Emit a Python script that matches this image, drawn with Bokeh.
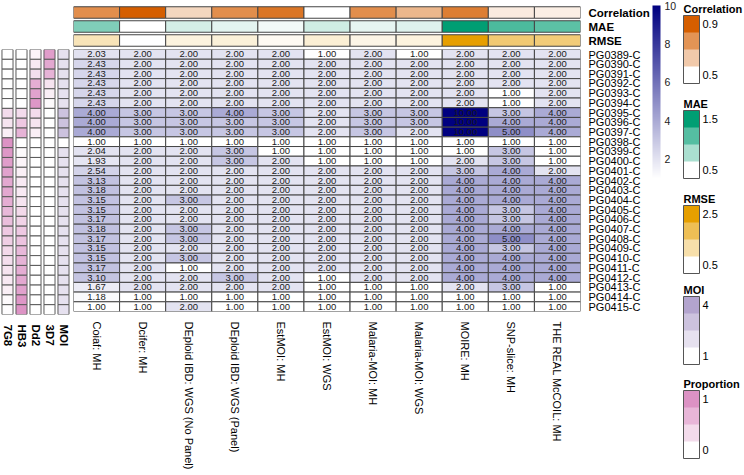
import numpy as np
from bokeh.plotting import figure
from bokeh.models import ColumnDataSource, ColorBar, LinearColorMapper, FixedTicker, FactorRange
from bokeh.layouts import row, column
from bokeh.embed import file_html
from bokeh.resources import INLINE
from bokeh.core.properties import value

FONT = "Liberation Sans"

methods = ["Coiaf: MH", "Dcifer: MH", "DEploid IBD: WGS  (No Panel)", "DEploid IBD: WGS  (Panel)",
           "EstMOI: MH", "EstMOI: WGS", "Malaria-MOI: MH", "Malaria-MOI: WGS",
           "MOIRE: MH", "SNP-slice: MH", "THE REAL McCOIL: MH"]
samples = ["PG0389-C", "PG0390-C", "PG0391-C", "PG0392-C", "PG0393-C", "PG0394-C",
           "PG0395-C", "PG0396-C", "PG0397-C", "PG0398-C", "PG0399-C", "PG0400-C",
           "PG0401-C", "PG0402-C", "PG0403-C", "PG0404-C", "PG0405-C", "PG0406-C",
           "PG0407-C", "PG0408-C", "PG0409-C", "PG0410-C", "PG0411-C", "PG0412-C",
           "PG0413-C", "PG0414-C", "PG0415-C"]

coiaf = [2.03, 2.43, 2.43, 2.43, 2.43, 2.43, 4.00, 4.00, 4.00, 1.00, 2.04, 1.93, 2.54, 3.13,
         3.18, 3.15, 3.15, 3.17, 3.18, 3.17, 3.15, 3.15, 3.17, 3.10, 1.67, 1.18, 1.00]
dcifer = [2, 2, 2, 2, 2, 2, 3, 3, 3, 1, 2, 2, 2, 2, 2, 2, 2, 2, 2, 2, 2, 2, 2, 2, 2, 1, 1]
deploid_nopanel = [2, 2, 2, 2, 2, 2, 3, 3, 3, 1, 2, 2, 2, 2, 2, 3, 2, 2, 3, 3, 2, 3, 1, 2, 2, 1, 2]
deploid_panel = [2, 2, 2, 2, 2, 2, 4, 3, 3, 1, 3, 3, 2, 2, 2, 2, 2, 2, 2, 2, 2, 2, 2, 3, 2, 1, 1]
estmoi_mh = [2, 2, 2, 2, 2, 2, 3, 3, 3, 1, 1, 2, 2, 2, 2, 2, 2, 2, 2, 2, 2, 2, 2, 2, 2, 1, 1]
estmoi_wgs = [1, 2, 2, 2, 2, 2, 2, 2, 2, 1, 1, 1, 2, 2, 2, 2, 2, 2, 2, 2, 2, 2, 2, 1, 1, 1, 1]
malaria_moi_mh = [2, 2, 2, 2, 2, 2, 3, 3, 3, 1, 1, 1, 2, 2, 2, 2, 2, 2, 2, 2, 2, 2, 2, 2, 1, 1, 1]
malaria_moi_wgs = [1, 2, 2, 2, 2, 2, 3, 3, 2, 1, 1, 1, 2, 2, 2, 2, 2, 2, 2, 2, 2, 2, 2, 2, 1, 1, 1]
moire = [2, 2, 2, 2, 2, 2, 10, 10, 10, 1, 1, 2, 3, 4, 4, 4, 4, 4, 4, 4, 4, 4, 4, 4, 2, 1, 1]
snp_slice = [2, 2, 2, 2, 1, 1, 3, 4, 5, 1, 3, 3, 4, 4, 4, 4, 3, 3, 4, 5, 3, 4, 4, 4, 3, 1, 1]
real_mccoil = [2, 2, 2, 2, 2, 2, 4, 4, 4, 1, 1, 1, 2, 4, 4, 4, 4, 4, 4, 4, 4, 4, 4, 4, 1, 1, 1]
moi_table = [coiaf, dcifer, deploid_nopanel, deploid_panel, estmoi_mh, estmoi_wgs,
             malaria_moi_mh, malaria_moi_wgs, moire, snp_slice, real_mccoil]

correlation = [0.78, 0.90, 0.60, 0.78, 0.84, 0.50, 0.78, 0.68, 0.82, 0.55, 0.54]
mae = [1.00, 0.50, 0.67, 0.61, 0.55, 0.69, 0.60, 0.63, 1.50, 1.20, 1.14]
rmse = [1.06, 0.50, 0.76, 0.80, 0.60, 0.84, 0.70, 0.76, 2.50, 1.60, 1.56]

strain_cols = ["7G8", "HB3", "Dd2", "3D7", "MOI"]
prop_7G8 = [0, 0, 0, 0, 0, 0, 0.33, 0.25, 0.15, 1.0, 0.95, 0.9, 0.85, 0.8, 0.8, 0.75, 0.65,
            0.6, 0.5, 0.45, 0.35, 0.3, 0.25, 0.2, 0.15, 0.05, 0.02]
prop_HB3 = [0, 0, 0, 0, 0, 0, 0.33, 0.5, 0.7, 0, 0.05, 0.1, 0.15, 0.2, 0.2, 0.25, 0.35,
            0.4, 0.5, 0.55, 0.65, 0.7, 0.75, 0.8, 0.85, 0.95, 0.98]
prop_Dd2 = [0.1, 0.2, 0.3, 0.75, 0.85, 0.95, 0.33, 0.25, 0.15, 0, 0, 0, 0, 0, 0, 0, 0,
            0, 0, 0, 0, 0, 0, 0, 0, 0, 0]
prop_3D7 = [0.9, 0.8, 0.7, 0.25, 0.15, 0.05, 0, 0, 0, 0, 0, 0, 0, 0, 0, 0, 0,
            0, 0, 0, 0, 0, 0, 0, 0, 0, 0]
true_moi = [2, 2, 2, 2, 2, 2, 3, 3, 3, 1, 2, 2, 2, 2, 2, 2, 2, 2, 2, 2, 2, 2, 2, 2, 2, 2, 2]

moi_ticks = [2, 4, 6, 8, 10]


def hex2rgb(h):
    h = h.lstrip("#")
    return tuple(int(h[i:i + 2], 16) for i in (0, 2, 4))


def ramp(vals, lo, hi, c_hi, c_lo="#ffffff"):
    a, b = hex2rgb(c_lo), hex2rgb(c_hi)
    out = []
    for v in vals:
        t = min(max((v - lo) / (hi - lo), 0.0), 1.0)
        out.append("#%02x%02x%02x" % tuple(int(round(x + t * (y - x))) for x, y in zip(a, b)))
    return out


NAVY = "#000080"
COR_C, MAE_C, RMSE_C = "#D55E00", "#009E73", "#E69F00"
MOI_C, PROP_C = "#B3A4CE", "#DC92C4"
GRID = "#454545"

# layout constants (page pixels)
TOP_H = 48          # height of the top-annotation figure
FRAME_TOP = 49      # heatmap frame top
FRAME_BOT = 314     # heatmap frame bottom
PAGE_H = 475
BOT_BORDER = PAGE_H - FRAME_BOT

# ---------------- main heatmap ----------------
xs, ys, vals = [], [], []
for m, col in zip(methods, moi_table):
    for s, v in zip(samples, col):
        xs.append(m)
        ys.append(s)
        vals.append(v)
src = ColumnDataSource(dict(x=xs, y=ys, v=vals, color=ramp(vals, 1, 10, NAVY),
                            label=["%.2f" % v for v in vals]))

yr = FactorRange(factors=samples[::-1])
xr = FactorRange(factors=methods)

M = figure(width=580, height=PAGE_H - TOP_H, x_range=xr, y_range=yr, output_backend="svg",
           toolbar_location=None, x_axis_location="below", y_axis_location="right",
           min_border_left=1, min_border_right=70, min_border_top=FRAME_TOP - TOP_H,
           min_border_bottom=BOT_BORDER)
M.rect(x="x", y="y", width=1, height=1, source=src, fill_color="color",
       line_color=GRID, line_width=1)
M.text(x="x", y="y", text="label", source=src, text_align="center", text_baseline="middle",
       text_font_size="9.5px", text_font=value(FONT), text_color="#1a1a1a")

M.outline_line_color = None
M.grid.visible = False
for ax in M.axis:
    ax.axis_line_color = None
    ax.major_tick_line_color = None
    ax.minor_tick_line_color = None
    ax.major_label_text_font = FONT
    ax.major_label_text_color = "#000000"
M.xaxis.major_label_orientation = -np.pi / 2
M.xaxis.major_label_text_font_size = "11px"
M.xaxis.major_label_standoff = 4
M.yaxis.major_label_text_font_size = "11px"
M.yaxis.major_label_standoff = 2

# ---------------- top annotations ----------------
ann_names = ["Correlation", "MAE", "RMSE"]
tx, ty, tc = [], [], []
for name, vv, lo, hi, c in [("Correlation", correlation, 0.5, 0.9, COR_C),
                            ("MAE", mae, 0.5, 1.5, MAE_C),
                            ("RMSE", rmse, 0.5, 2.5, RMSE_C)]:
    tx += methods
    ty += [name] * len(methods)
    tc += ramp(vv, lo, hi, c)
tsrc = ColumnDataSource(dict(x=tx, y=ty, color=tc))
T = figure(width=580, height=TOP_H, x_range=xr, y_range=FactorRange(factors=ann_names[::-1]),
           output_backend="svg", toolbar_location=None, x_axis_location=None,
           y_axis_location="right", min_border_left=1, min_border_right=70,
           min_border_top=5, min_border_bottom=1)
T.rect(x="x", y="y", width=1, height=0.82, source=tsrc, fill_color="color",
       line_color=GRID, line_width=1)
T.outline_line_color = None
T.grid.visible = False
T.yaxis.axis_line_color = None
T.yaxis.major_tick_line_color = None
T.yaxis.minor_tick_line_color = None
T.yaxis.major_label_text_font = FONT
T.yaxis.major_label_text_font_style = "bold"
T.yaxis.major_label_text_font_size = "11.5px"
T.yaxis.major_label_text_color = "#000000"
T.yaxis.major_label_standoff = 2

# ---------------- left annotations ----------------
lx, ly, lc = [], [], []
for name, vv in [("7G8", prop_7G8), ("HB3", prop_HB3), ("Dd2", prop_Dd2), ("3D7", prop_3D7)]:
    lx += [name] * len(samples)
    ly += samples
    lc += ramp(vv, 0, 1, PROP_C)
lx += ["MOI"] * len(samples)
ly += samples
lc += ramp(true_moi, 1, 4, MOI_C)
lsrc = ColumnDataSource(dict(x=lx, y=ly, color=lc))
L = figure(width=72, height=PAGE_H, x_range=FactorRange(factors=strain_cols), y_range=yr,
           output_backend="svg", toolbar_location=None, y_axis_location=None,
           min_border_left=0, min_border_right=2, min_border_top=FRAME_TOP,
           min_border_bottom=BOT_BORDER)
L.rect(x="x", y="y", width=0.79, height=1, source=lsrc, fill_color="color",
       line_color="#5a5a5a", line_width=1)
L.outline_line_color = None
L.grid.visible = False
L.xaxis.axis_line_color = None
L.xaxis.major_tick_line_color = None
L.xaxis.minor_tick_line_color = None
L.xaxis.major_label_text_font = FONT
L.xaxis.major_label_text_font_style = "bold"
L.xaxis.major_label_text_font_size = "11.5px"
L.xaxis.major_label_text_color = "#000000"
L.xaxis.major_label_orientation = -np.pi / 2
L.xaxis.major_label_standoff = 4

# ---------------- legends ----------------
# legend figure's frame is aligned with the heatmap rows (y 49..314); colour-bar
# locations are measured from that frame's bottom-left corner, in pixels.
G = figure(width=92, height=PAGE_H, output_backend="svg", toolbar_location=None,
           x_axis_location=None, y_axis_location=None,
           min_border_left=0, min_border_right=0, min_border_top=FRAME_TOP,
           min_border_bottom=BOT_BORDER)
G.outline_line_color = None
G.grid.visible = False


def from_frame_bottom(page_y):
    return FRAME_BOT - page_y


cont_pal = ramp(list(np.linspace(1, 10, 256)), 1, 10, NAVY)
cb = ColorBar(color_mapper=LinearColorMapper(palette=cont_pal, low=1, high=10),
              ticker=FixedTicker(ticks=moi_ticks), width=8, height=173, padding=0,
              location=(0, from_frame_bottom(178)), major_tick_line_color=None,
              bar_line_color=None, border_line_color=None, background_fill_color=None,
              major_label_text_font=FONT, major_label_text_font_size="10.5px",
              major_label_text_color="#222222", label_standoff=4)
G.add_layout(cb, "center")


def legend_title(title, center_y):
    # a transparent one-tick scale whose only label is the legend's title
    c = ColorBar(color_mapper=LinearColorMapper(palette=["#ffffff"], low=0, high=1),
                 ticker=FixedTicker(ticks=[0.5]), major_label_overrides={0.5: title},
                 width=1, height=12, padding=0, scale_alpha=0,
                 location=(29, from_frame_bottom(center_y + 6)),
                 major_tick_line_color=None, bar_line_color=None, border_line_color=None,
                 background_fill_color=None, major_label_text_font=FONT,
                 major_label_text_font_style="bold", major_label_text_font_size="11px",
                 major_label_text_color="#000000", label_standoff=1)
    G.add_layout(c, "center")


def disc_legend(title, lo, hi, color, top, labels_at):
    step = (hi - lo) / 3.0
    breaks = [lo + i * step for i in range(4)]
    pal = ramp(breaks, lo, hi, color)
    mapper = LinearColorMapper(palette=pal, low=lo - step / 2, high=hi + step / 2)
    c = ColorBar(color_mapper=mapper, ticker=FixedTicker(ticks=labels_at), width=16, height=68,
                 padding=0, location=(31, from_frame_bottom(top + 68)),
                 major_tick_line_color=None, bar_line_color="#555555",
                 bar_line_width=1, border_line_color=None, background_fill_color=None,
                 major_label_text_font=FONT, major_label_text_font_size="11px",
                 major_label_text_color="#000000", label_standoff=3)
    G.add_layout(c, "center")
    legend_title(title, top - 7)


disc_legend("Correlation", 0.5, 0.9, COR_C, 15, [0.5, 0.9])
disc_legend("MAE", 0.5, 1.5, MAE_C, 110, [0.5, 1.5])
disc_legend("RMSE", 0.5, 2.5, RMSE_C, 205, [0.5, 2.5])
disc_legend("MOI", 1, 4, MOI_C, 296, [1, 4])
disc_legend("Proportion", 0, 1, PROP_C, 390, [0, 1])

layout = row(L, column(T, M), G)
open("out.html", "w").write(file_html(layout, INLINE))
